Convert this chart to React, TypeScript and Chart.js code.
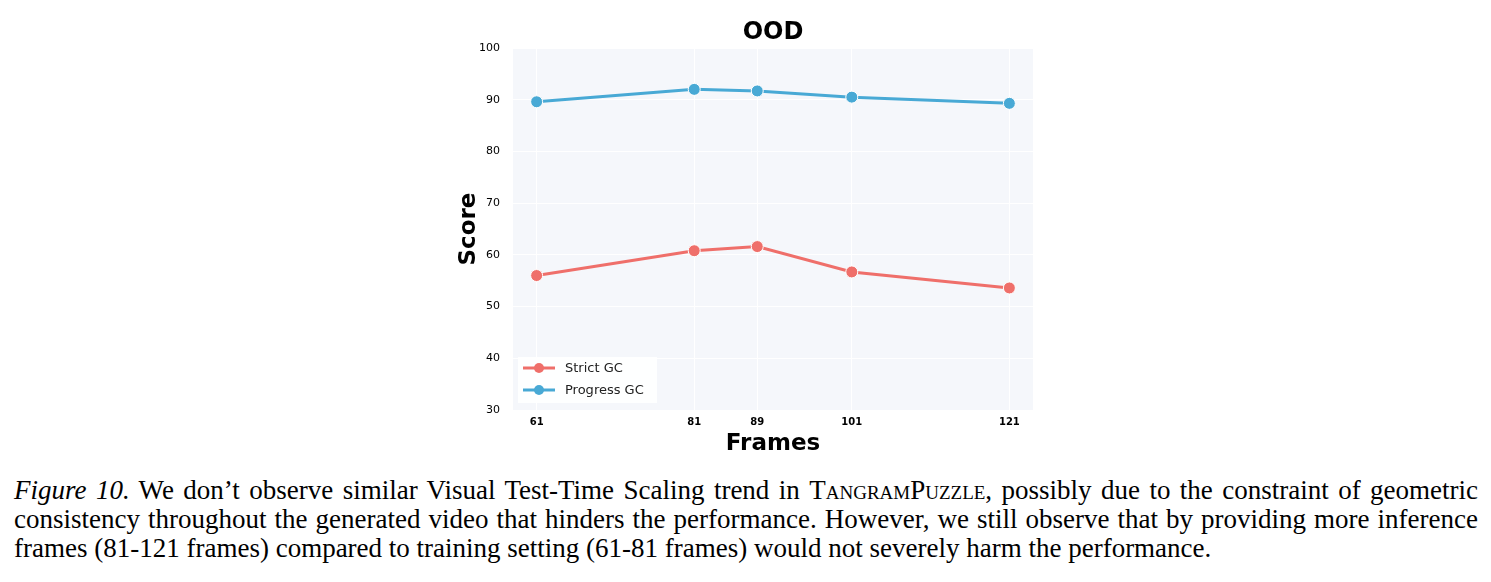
import React, { useEffect, useRef } from "react";
import { Chart, registerables } from "chart.js";

Chart.register(...registerables);

const frames = [61, 81, 89, 101, 121];
const strictGC = [56.0, 60.8, 61.6, 56.7, 53.6];
const progressGC = [89.6, 92.0, 91.7, 90.5, 89.3];
const yTicks = [30, 40, 50, 60, 70, 80, 90, 100];
const seriesNames = ["Strict GC", "Progress GC"];
const seriesColors = ["#EF6F6A", "#48A9D5"];

const bgPlugin = {
  id: "bgPlugin",
  beforeDraw(chart: any) {
    const { ctx, chartArea } = chart;
    ctx.save();
    ctx.fillStyle = "#F5F7FB";
    ctx.fillRect(chartArea.left, chartArea.top, chartArea.right - chartArea.left, chartArea.bottom - chartArea.top);
    ctx.restore();
  },
  afterDraw(chart: any) {
    const { ctx, chartArea } = chart;
    ctx.save();
    ctx.fillStyle = "#000";
    ctx.font = "bold 24px 'DejaVu Sans'";
    ctx.textAlign = "center";
    ctx.textBaseline = "middle";
    ctx.fillText("OOD", (chartArea.left + chartArea.right) / 2, 33);
    ctx.restore();
  },
  afterDatasetsDraw(chart: any) {
    const { ctx, chartArea } = chart;
    const x0 = chartArea.left + 5;
    const y0 = chartArea.bottom - 53;
    ctx.save();
    ctx.fillStyle = "rgba(255,255,255,0.9)";
    ctx.fillRect(x0, y0, 139, 46);
    chart.data.datasets.forEach((ds: any, i: number) => {
      const cy = y0 + 11 + i * 22;
      ctx.strokeStyle = ds.borderColor;
      ctx.lineWidth = 3;
      ctx.beginPath();
      ctx.moveTo(x0 + 5, cy);
      ctx.lineTo(x0 + 37, cy);
      ctx.stroke();
      ctx.fillStyle = ds.borderColor;
      ctx.beginPath();
      ctx.arc(x0 + 21, cy, 5, 0, Math.PI * 2);
      ctx.fill();
      ctx.fillStyle = "#222";
      ctx.font = "13px 'DejaVu Sans'";
      ctx.textAlign = "left";
      ctx.textBaseline = "middle";
      ctx.fillText(ds.label, x0 + 47, cy + 1);
    });
    ctx.restore();
  },
};

function App() {
  const ref = useRef<HTMLCanvasElement>(null);
  useEffect(() => {
    if (!ref.current) return;
    const chart = new Chart(ref.current, {
      type: "line",
      data: {
        datasets: [
          {
            label: seriesNames[0],
            data: frames.map((f, i) => ({ x: f, y: strictGC[i] })),
            borderColor: seriesColors[0],
            backgroundColor: seriesColors[0],
            borderWidth: 3,
            pointRadius: 6,
            pointBorderColor: "#ffffff",
            pointBorderWidth: 1,
          },
          {
            label: seriesNames[1],
            data: frames.map((f, i) => ({ x: f, y: progressGC[i] })),
            borderColor: seriesColors[1],
            backgroundColor: seriesColors[1],
            borderWidth: 3,
            pointRadius: 6,
            pointBorderColor: "#ffffff",
            pointBorderWidth: 1,
          },
        ],
      },
      options: {
        animation: false,
        responsive: false,
        maintainAspectRatio: false,
        layout: { padding: { left: 455, right: 458, top: 48, bottom: 7 } },
        plugins: {
          legend: { display: false },
          title: { display: false },
          tooltip: { enabled: false },
        },
        scales: {
          x: {
            type: "linear",
            min: 58,
            max: 124,
            afterBuildTicks(scale: any) {
              scale.ticks = frames.map((v) => ({ value: v }));
            },
            afterFit(scale: any) {
              scale.height = 48;
            },
            grid: { color: "#ffffff", lineWidth: 1, drawTicks: false },
            border: { display: false },
            ticks: {
              padding: 6,
              color: "#000",
              font: { family: "DejaVu Sans", size: 10, weight: "bold" },
              callback: (v: any) => String(v),
            },
            title: {
              display: true,
              text: "Frames",
              color: "#000",
              font: { family: "DejaVu Sans", size: 23, weight: "bold" },
              padding: { top: 2, bottom: 0 },
            },
          },
          y: {
            min: 30,
            max: 100,
            afterBuildTicks(scale: any) {
              scale.ticks = yTicks.map((v) => ({ value: v }));
            },
            afterFit(scale: any) {
              scale.width = 58;
            },
            grid: { color: "#ffffff", lineWidth: 1, drawTicks: false },
            border: { display: false },
            ticks: {
              padding: 13,
              color: "#000",
              font: { family: "DejaVu Sans", size: 11 },
            },
            title: {
              display: true,
              text: "Score",
              color: "#000",
              font: { family: "DejaVu Sans", size: 23, weight: "bold" },
              padding: { top: 0, bottom: 12 },
            },
          },
        },
      },
      plugins: [bgPlugin],
    } as any);
    return () => chart.destroy();
  }, []);

  const lineStyle: React.CSSProperties = {
    width: 1464,
    textAlign: "justify",
    textAlignLast: "justify",
    whiteSpace: "nowrap",
    height: 29,
  };

  return (
    <div style={{ position: "absolute", left: 0, top: 0, width: 1491, height: 582, background: "#fff" }}>
      <canvas ref={ref} width={1491} height={465} style={{ position: "absolute", left: 0, top: 0, width: 1491, height: 465 }} />
      <div
        style={{
          position: "absolute",
          left: 14,
          top: 476,
          fontFamily: "'Liberation Serif', serif",
          fontSize: 27,
          lineHeight: "29px",
          color: "#000",
        }}
      >
        <div style={lineStyle}>
          <i>Figure 10.</i> We don’t observe similar Visual Test-Time Scaling trend in <span style={{ fontVariant: "small-caps" }}>TangramPuzzle</span>, possibly due to the constraint of geometric
        </div>
        <div style={lineStyle}>
          consistency throughout the generated video that hinders the performance. However, we still observe that by providing more inference
        </div>
        <div style={{ ...lineStyle, textAlignLast: "left" }}>
          frames (81-121 frames) compared to training setting (61-81 frames) would not severely harm the performance.
        </div>
      </div>
    </div>
  );
}

export default App;
